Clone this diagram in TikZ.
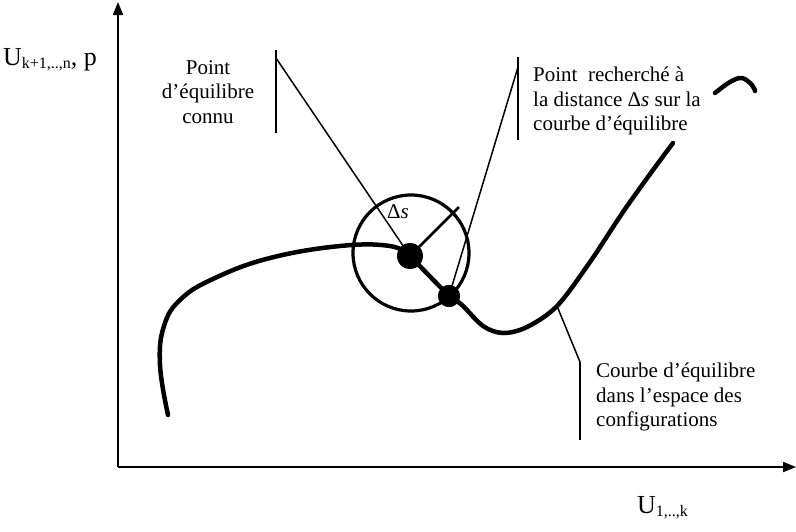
\documentclass[tikz,border=0pt]{standalone}
\usepackage{fontspec}
\setmainfont{Liberation Serif}
\usetikzlibrary{arrows.meta}
\tikzset{
  axis/.style={line width=2pt,-{Triangle[length=13pt,width=10pt]}},
  curve/.style={line width=4.5pt,line cap=round,line join=round},
  leader/.style={line width=1.5pt},
  bracket/.style={line width=2pt},
  dot/.style={circle,fill=black,inner sep=0pt},
  lbl/.style={font=\fontsize{21}{24.5}\selectfont,inner sep=0pt},
  axlbl/.style={font=\fontsize{26}{30}\selectfont,inner sep=0pt,anchor=base west}
}
\newcommand{\subsc}[1]{\raisebox{-0.3ex}{\fontsize{16}{18}\selectfont #1}}
\begin{document}
\begin{tikzpicture}[x=1pt,y=-1pt]
\useasboundingbox (0,0) rectangle (796,531);
% axes
\coordinate (O) at (118,467);
\coordinate (ytop) at (118,2);
\coordinate (xend) at (796,467);
\draw[axis] (O) -- (ytop);
\draw[axis] (O) -- (xend);
\node[axlbl] (ylab) at (3,65) {U\subsc{k+1,..,n}, p};
\node[axlbl] (xlab) at (637,513) {U\subsc{1,..,k}};
% nodes
\node[dot,minimum size=26pt] (big) at (410,256) {};
\node[dot,minimum size=22pt] (small) at (449,296) {};
\node[circle,draw,line width=3.2pt,minimum size=116pt,inner sep=0pt] (circ) at (411,253) {};
% curve
\draw[curve] plot[smooth,tension=0.7] coordinates {(168,415) (160,365) (164,326) (181,299) (215,278) (270,258) (340,246) (390,246) (410,256)};
\draw[curve] (big.center) -- (small.center);
\draw[curve] plot[smooth,tension=0.55] coordinates {(449,296) (462,305) (483,326) (503,333) (527,327) (557,306) (590,262) (623,212) (653,170) (673,143)};
\draw[curve] plot[smooth,tension=0.6] coordinates {(715,93) (730,82) (742,78) (752,85) (755,91)};
% radius
\coordinate (rad) at (459,207);
\draw[line width=2.5pt] (big.center) -- (rad);
\node[font=\fontsize{21}{24}\selectfont,inner sep=0pt] (ds) at (398,212) {Δ\textit{s}};
% label 1
\coordinate (b1t) at (276,50);
\coordinate (b1b) at (276,133);
\coordinate (b1l) at (276,58);
\draw[bracket] (b1t) -- (b1b);
\draw[leader] (b1l) -- (big.center);
\node[lbl,align=center] (l1) at (208,92) {Point\\d’équilibre\\connu};
% label 2
\coordinate (b2t) at (518,57);
\coordinate (b2b) at (518,140);
\coordinate (b2l) at (518,67);
\draw[bracket] (b2t) -- (b2b);
\draw[leader] (b2l) -- (small.center);
\node[lbl,align=left,anchor=west] (l2) at (533,101) {Point\ \ recherché à\\la distance Δ\textit{s} sur la\\courbe d’équilibre};
% label 3
\coordinate (b3t) at (580,362);
\coordinate (b3b) at (580,440);
\coordinate (c3) at (557,306);
\draw[bracket] (b3t) -- (b3b);
\draw[leader] (b3t) -- (c3);
\node[lbl,align=left,anchor=west] (l3) at (596,397) {Courbe d’équilibre\\dans l’espace des\\configurations};
% redraw dots on top
\node[dot,minimum size=26pt] at (big) {};
\node[dot,minimum size=22pt] at (small) {};
\end{tikzpicture}
\end{document}
